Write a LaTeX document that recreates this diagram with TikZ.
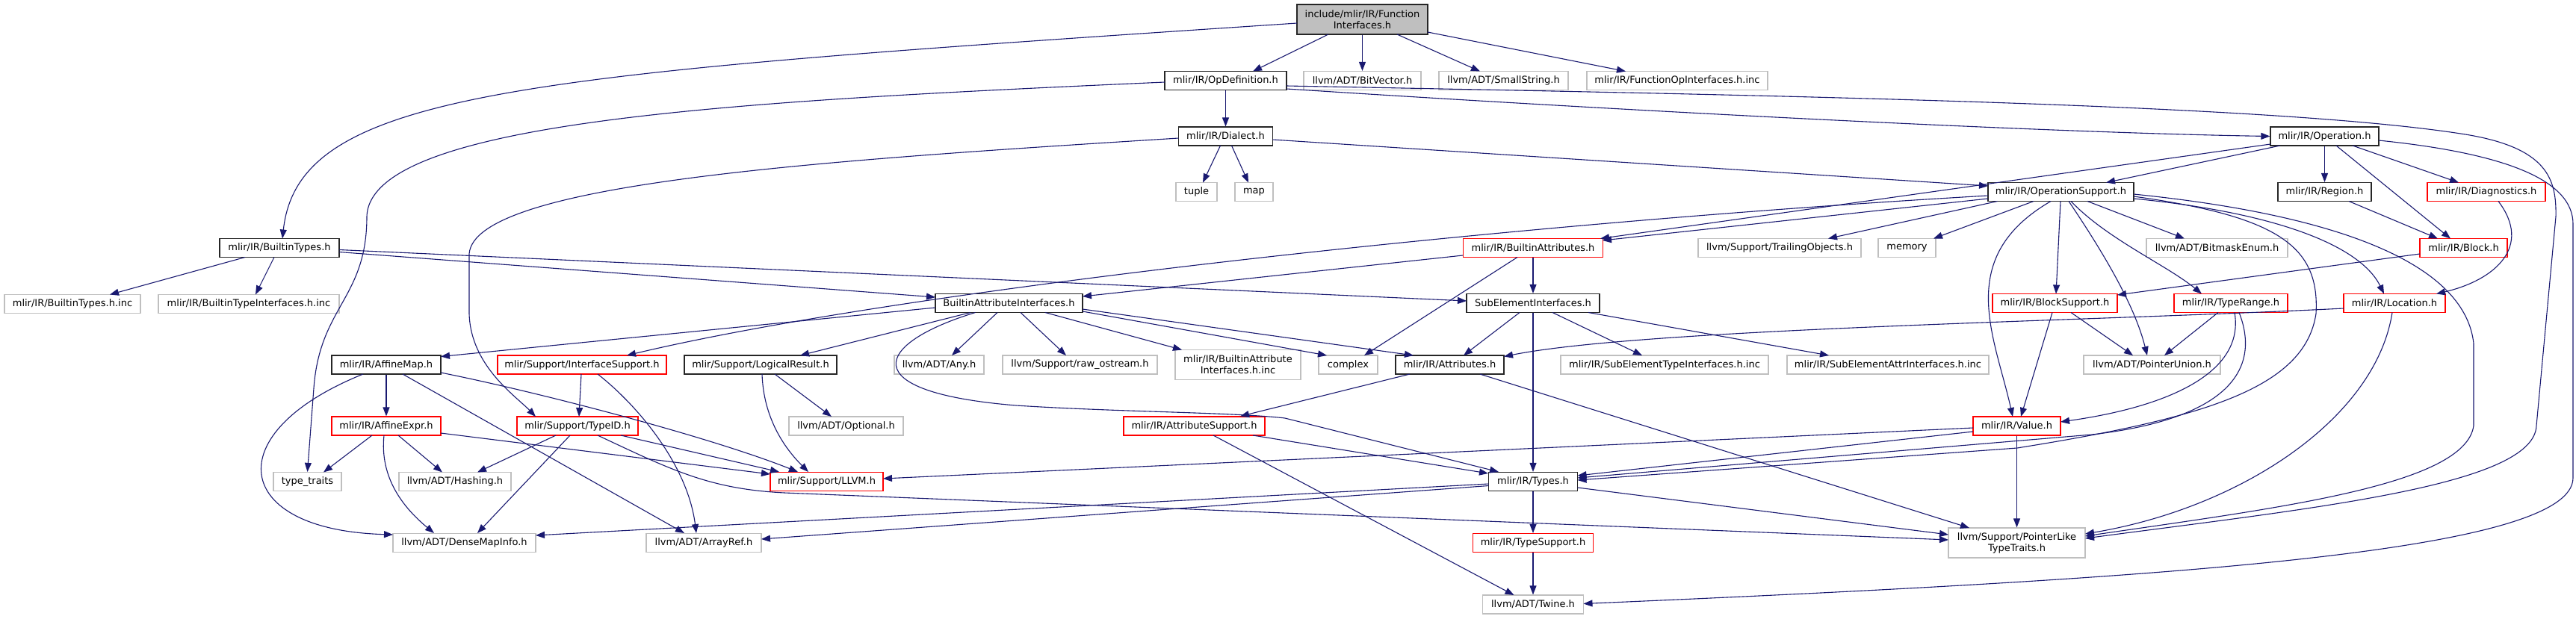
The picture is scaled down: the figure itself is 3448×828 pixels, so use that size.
\documentclass[tikz,border=0pt]{standalone}
\usepackage{fontspec}
\setmainfont{DejaVu Sans}
\usetikzlibrary{arrows.meta}
\definecolor{edgec}{HTML}{191970}
\definecolor{redb}{HTML}{FF0000}
\definecolor{grayb}{HTML}{BFBFBF}
\tikzset{
 nb/.style={draw, rectangle, inner sep=0pt, minimum height=25pt, font=\fontsize{13}{15}\selectfont, align=center, fill=white, line width=1.2pt},
 blk/.style={nb, draw=black!85},
 redn/.style={nb, draw=redb},
 grn/.style={nb, draw=grayb},
 ttl/.style={nb, draw=black!85, fill=grayb, minimum height=40pt},
 two/.style={minimum height=40pt},
 e/.style={draw=edgec, line width=1.1pt, -{Triangle[length=12pt,width=9pt]}},
}
\begin{document}
\begin{tikzpicture}[x=1pt,y=-1pt]
\useasboundingbox (0,0) rectangle (3448,828);
% nodes
\node[ttl, minimum width=175pt] (T) at (1823.5,26) {include/mlir/IR/Function\\Interfaces.h};
\node[blk, minimum width=163pt] (OD) at (1640.5,108) {mlir/IR/OpDefinition.h};
\node[grn, minimum width=157pt] (BV) at (1823.5,108) {llvm/ADT/BitVector.h};
\node[grn, minimum width=173pt] (SS) at (2012.5,108) {llvm/ADT/SmallString.h};
\node[grn, minimum width=242pt] (FOI) at (2245,108) {mlir/IR/FunctionOpInterfaces.h.inc};
\node[blk, minimum width=126pt] (DI) at (1640.5,182.5) {mlir/IR/Dialect.h};
\node[blk, minimum width=145pt] (OP) at (3111.5,182.5) {mlir/IR/Operation.h};
\node[grn, minimum width=55pt] (TU) at (1601.5,257) {tuple};
\node[grn, minimum width=51pt] (MP) at (1678.5,257) {map};
\node[blk, minimum width=195pt] (OS) at (2758.5,257) {mlir/IR/OperationSupport.h};
\node[blk, minimum width=125pt] (RG) at (3111.5,257) {mlir/IR/Region.h};
\node[redn, minimum width=158pt] (DG) at (3328,257) {mlir/IR/Diagnostics.h};
\node[blk, minimum width=160pt] (BT) at (374,332) {mlir/IR/BuiltinTypes.h};
\node[redn, minimum width=187pt] (BA) at (2052,332) {mlir/IR/BuiltinAttributes.h};
\node[grn, minimum width=218pt] (TO) at (2382,332) {llvm/Support/TrailingObjects.h};
\node[grn, minimum width=77pt] (ME) at (2552.5,332) {memory};
\node[grn, minimum width=189pt] (BE) at (2967.5,332) {llvm/ADT/BitmaskEnum.h};
\node[redn, minimum width=117pt] (BL) at (3297.5,332) {mlir/IR/Block.h};
\node[grn, minimum width=182pt] (BTI) at (97,407) {mlir/IR/BuiltinTypes.h.inc};
\node[grn, minimum width=242pt] (BTII) at (333,407) {mlir/IR/BuiltinTypeInterfaces.h.inc};
\node[blk, minimum width=197pt] (BAI) at (1350.5,406) {BuiltinAttributeInterfaces.h};
\node[blk, minimum width=178pt] (SEI) at (2052,406) {SubElementInterfaces.h};
\node[redn, minimum width=167pt] (BS) at (2750.5,406) {mlir/IR/BlockSupport.h};
\node[redn, minimum width=152pt] (TR) at (2986,406) {mlir/IR/TypeRange.h};
\node[redn, minimum width=136pt] (LO) at (3205,406) {mlir/IR/Location.h};
\node[blk, minimum width=146pt] (AM) at (517,488.5) {mlir/IR/AffineMap.h};
\node[redn, minimum width=226pt] (IS) at (779,488.5) {mlir/Support/InterfaceSupport.h};
\node[blk, minimum width=204pt] (LR) at (1018,488.5) {mlir/Support/LogicalResult.h};
\node[grn, minimum width=120pt] (AN) at (1257,488.5) {llvm/ADT/Any.h};
\node[grn, minimum width=207pt] (RO) at (1445.5,488.5) {llvm/Support/raw\_ostream.h};
\node[grn, two, minimum width=168pt] (BAIi) at (1657,488.5) {mlir/IR/BuiltinAttribute\\Interfaces.h.inc};
\node[grn, minimum width=79pt] (CX) at (1804.5,488.5) {complex};
\node[blk, minimum width=145pt] (AT) at (1940.5,488.5) {mlir/IR/Attributes.h};
\node[grn, minimum width=278pt] (SETI) at (2228,488.5) {mlir/IR/SubElementTypeInterfaces.h.inc};
\node[grn, minimum width=270pt] (SEAI) at (2527,488.5) {mlir/IR/SubElementAttrInterfaces.h.inc};
\node[grn, minimum width=183pt] (PU) at (2880.5,488.5) {llvm/ADT/PointerUnion.h};
\node[redn, minimum width=146pt] (AE) at (517,570.5) {mlir/IR/AffineExpr.h};
\node[redn, minimum width=162pt] (TID) at (773,570.5) {mlir/Support/TypeID.h};
\node[grn, minimum width=153pt] (OPT) at (1132.5,570.5) {llvm/ADT/Optional.h};
\node[redn, minimum width=189pt] (AS) at (1598.5,570.5) {mlir/IR/AttributeSupport.h};
\node[redn, minimum width=117pt] (VA) at (2699.5,570.5) {mlir/IR/Value.h};
\node[grn, minimum width=91pt] (TT) at (411.5,645) {type\_traits};
\node[grn, minimum width=150pt] (HA) at (609,645) {llvm/ADT/Hashing.h};
\node[redn, minimum width=151pt] (LL) at (1106.5,645) {mlir/Support/LLVM.h};
\node[blk, minimum width=119pt] (TY) at (2052,645) {mlir/IR/Types.h};
\node[grn, minimum width=191pt] (DM) at (621.5,727) {llvm/ADT/DenseMapInfo.h};
\node[grn, minimum width=154pt] (AR) at (942,727) {llvm/ADT/ArrayRef.h};
\node[redn, minimum width=161pt] (TS) at (2052,727) {mlir/IR/TypeSupport.h};
\node[grn, two, minimum width=183pt] (PL) at (2699.5,727) {llvm/Support/PointerLike\\TypeTraits.h};
\node[grn, minimum width=135pt] (TW) at (2052,809.5) {llvm/ADT/Twine.h};
% title
\draw[e] ([shift={(-87.5,5)}]T.center) .. controls (700,100) and (400,120) .. ([shift={(4,-12.5)}]BT.center);
\draw[e] ([shift={(-45.5,20)}]T.center) -- ([shift={(36.5,-12.5)}]OD.center);
\draw[e] (T.south) -- (BV.north);
\draw[e] ([shift={(46.5,20)}]T.center) -- ([shift={(-31.5,-12.5)}]SS.center);
\draw[e] ([shift={(87.5,17)}]T.center) -- ([shift={(-69,-12.5)}]FOI.center);
% OpDefinition
\draw[e] (OD.south) -- (DI.north);
\draw[e] ([shift={(81.5,11)}]OD.center) .. controls (2200,150) and (2750,178) .. (OP.west);
\draw[e] ([shift={(-81.5,2)}]OD.center) .. controls (1000,135) and (495,160) .. (491,290) .. controls (491,400) and (428,410) .. (420,520) -- (TT.north);
\draw[e] ([shift={(81.5,7)}]OD.center) .. controls (2400,128) and (3050,140) .. (3300,180) .. controls (3410,198) and (3422,240) .. (3421,290) -- (3395,570) .. controls (3392,650) and (3100,680) .. ([shift={(91.5,-6)}]PL.center);
% Dialect
\draw[e] ([shift={(-7,12.5)}]DI.center) -- ([shift={(8.5,-12.5)}]TU.center);
\draw[e] ([shift={(8,12.5)}]DI.center) -- ([shift={(-7.5,-12.5)}]MP.center);
\draw[e] ([shift={(63,4.5)}]DI.center) -- ([shift={(-97.5,-8)}]OS.center);
\draw[e] ([shift={(-63,2.5)}]DI.center) .. controls (1100,215) and (635,245) .. (628,340) -- (628,420) .. controls (630,490) and (690,530) .. ([shift={(-56,-12.5)}]TID.center);
% Operation
\draw[e] ([shift={(-59.5,12.5)}]OP.center) -- ([shift={(60.5,-12.5)}]OS.center);
\draw[e] (OP.south) -- (RG.north);
\draw[e] ([shift={(15.5,12.5)}]OP.center) -- ([shift={(-17.5,-12.5)}]BL.center);
\draw[e] ([shift={(37.5,12.5)}]OP.center) -- ([shift={(-37,-12.5)}]DG.center);
\draw[e] ([shift={(-72.5,10.5)}]OP.center) -- ([shift={(90,-12.5)}]BA.center);
\draw[e] ([shift={(72.5,5.5)}]OP.center) .. controls (3350,205) and (3444,240) .. (3444,300) -- (3444,640) .. controls (3444,740) and (2900,775) .. ([shift={(67.5,-1)}]TW.center);
% OperationSupport
\draw[e] ([shift={(-97.5,9)}]OS.center) -- ([shift={(93,-10)}]BA.center);
\draw[e] ([shift={(-97.5,5)}]OS.center) .. controls (2000,300) and (1200,390) .. ([shift={(60,-12.5)}]IS.center);
\draw[e] ([shift={(-85,12.5)}]OS.center) -- ([shift={(65,-12.5)}]TO.center);
\draw[e] ([shift={(-36.5,12.5)}]OS.center) -- ([shift={(35.5,-12.5)}]ME.center);
\draw[e] ([shift={(35.5,12.5)}]OS.center) -- ([shift={(-43.5,-12.5)}]BE.center);
\draw[e] ([shift={(-0.5,12.5)}]OS.center) -- ([shift={(1.5,-12.5)}]BS.center);
\draw[e] ([shift={(13.5,12.5)}]OS.center) .. controls (2820,320) and (2900,355) .. ([shift={(-39,-12.5)}]TR.center);
\draw[e] ([shift={(97.5,9)}]OS.center) .. controls (3050,285) and (3160,330) .. ([shift={(-14,-12.5)}]LO.center);
\draw[e] ([shift={(10.5,12.5)}]OS.center) .. controls (2830,360) and (2860,420) .. ([shift={(-6.5,-12.5)}]PU.center);
\draw[e] ([shift={(-13.5,12.5)}]OS.center) .. controls (2615,345) and (2670,450) .. ([shift={(-5.5,-12.5)}]VA.center);
\draw[e] ([shift={(97.5,6)}]OS.center) .. controls (3050,290) and (3105,330) .. (3100,420) .. controls (3085,520) and (2950,560) .. (2700,600) -- ([shift={(59.5,-2)}]TY.center);
\draw[e] ([shift={(97.5,3)}]OS.center) .. controls (3150,290) and (3300,360) .. (3311,460) -- (3311,570) .. controls (3300,650) and (3050,680) .. ([shift={(91.5,-9)}]PL.center);
% Block, Region, Diagnostics, Location
\draw[e] ([shift={(-58.5,8)}]BL.center) -- ([shift={(83.5,-11)}]BS.center);
\draw[e] ([shift={(32.5,12.5)}]RG.center) -- ([shift={(-34.5,-12.5)}]BL.center);
\draw[e] ([shift={(16,12.5)}]DG.center) .. controls (3390,330) and (3340,375) .. ([shift={(56,-12.5)}]LO.center);
\draw[e] ([shift={(-68,7)}]LO.center) .. controls (2800,430) and (2200,440) .. ([shift={(72.5,-11)}]AT.center);
\draw[e] ([shift={(-3,12.5)}]LO.center) .. controls (3180,560) and (3000,680) .. ([shift={(91.5,-12)}]PL.center);
% BlockSupport, TypeRange
\draw[e] ([shift={(-3.5,12.5)}]BS.center) -- ([shift={(5.5,-12.5)}]VA.center);
\draw[e] ([shift={(21.5,12.5)}]BS.center) -- ([shift={(-25.5,-12.5)}]PU.center);
\draw[e] ([shift={(-17,12.5)}]TR.center) -- ([shift={(16.5,-12.5)}]PU.center);
\draw[e] ([shift={(5,12.5)}]TR.center) .. controls (3005,500) and (2900,545) .. ([shift={(58.5,-5.5)}]VA.center);
\draw[e] ([shift={(11,12.5)}]TR.center) .. controls (3025,490) and (2990,560) .. (2800,582) -- ([shift={(59.5,-5)}]TY.center);
% Value
\draw[e] ([shift={(-58.5,2.5)}]VA.center) -- ([shift={(75.5,-4)}]LL.center);
\draw[e] ([shift={(-58.5,7.5)}]VA.center) -- ([shift={(59.5,-8)}]TY.center);
\draw[e] (VA.south) -- (PL.north);
% BuiltinTypes
\draw[e] ([shift={(-46,12.5)}]BT.center) -- ([shift={(50,-12.5)}]BTI.center);
\draw[e] ([shift={(-7,12.5)}]BT.center) -- ([shift={(9,-12.5)}]BTII.center);
\draw[e] ([shift={(80,5.5)}]BT.center) -- ([shift={(-98.5,-8)}]BAI.center);
\draw[e] ([shift={(80,2.5)}]BT.center) -- ([shift={(-89,-3)}]SEI.center);
% BuiltinAttributes
\draw[e] ([shift={(-94,10)}]BA.center) -- ([shift={(98.5,-9)}]BAI.center);
\draw[e] (BA.south) -- (SEI.north);
\draw[e] ([shift={(-21,12.5)}]BA.center) -- ([shift={(21.5,-12.5)}]CX.center);
% SubElementInterfaces
\draw[e] ([shift={(-18,12.5)}]SEI.center) -- ([shift={(18.5,-12.5)}]AT.center);
\draw[e] (SEI.south) -- (TY.north);
\draw[e] ([shift={(26,12.5)}]SEI.center) -- ([shift={(-30,-12.5)}]SETI.center);
\draw[e] ([shift={(74,12.5)}]SEI.center) -- ([shift={(-79,-12.5)}]SEAI.center);
% BuiltinAttributeInterfaces
\draw[e] ([shift={(-98.5,6)}]BAI.center) -- ([shift={(73,-11)}]AM.center);
\draw[e] ([shift={(-51.5,12.5)}]BAI.center) -- ([shift={(53,-12.5)}]LR.center);
\draw[e] ([shift={(-15.5,12.5)}]BAI.center) -- ([shift={(17,-12.5)}]AN.center);
\draw[e] ([shift={(15.5,12.5)}]BAI.center) -- ([shift={(-18.5,-12.5)}]RO.center);
\draw[e] ([shift={(48.5,12.5)}]BAI.center) -- ([shift={(-75,-20)}]BAIi.center);
\draw[e] ([shift={(98.5,11)}]BAI.center) -- ([shift={(-28.5,-12.5)}]CX.center);
\draw[e] ([shift={(98.5,8)}]BAI.center) -- ([shift={(-48.5,-12.5)}]AT.center);
\draw[e] ([shift={(-45,12.5)}]BAI.center) .. controls (1170,460) and (1140,525) .. (1360,543) .. controls (1500,552) and (1650,552) .. (1720,560) -- ([shift={(-46,-13)}]TY.center);
% AffineMap
\draw[e] (AM.south) -- (AE.north);
\draw[e] ([shift={(-31,12.5)}]AM.center) .. controls (290,580) and (310,710) .. ([shift={(-95.5,-11)}]DM.center);
\draw[e] ([shift={(22,12.5)}]AM.center) -- ([shift={(-26,-13)}]AR.center);
\draw[e] ([shift={(73,10.5)}]AM.center) .. controls (720,525) and (950,585) .. ([shift={(-38.5,-13)}]LL.center);
% AffineExpr
\draw[e] ([shift={(-19,12.5)}]AE.center) -- ([shift={(21.5,-12.5)}]TT.center);
\draw[e] ([shift={(16,12.5)}]AE.center) -- ([shift={(-17,-12.5)}]HA.center);
\draw[e] ([shift={(-3,12.5)}]AE.center) .. controls (508,640) and (540,680) .. ([shift={(-40.5,-13)}]DM.center);
\draw[e] ([shift={(73,9.5)}]AE.center) -- ([shift={(-75.5,-10)}]LL.center);
% InterfaceSupport
\draw[e] ([shift={(-1,12.5)}]IS.center) -- ([shift={(2,-12.5)}]TID.center);
\draw[e] ([shift={(21,12.5)}]IS.center) .. controls (850,540) and (920,620) .. ([shift={(-10,-13)}]AR.center);
% TypeID
\draw[e] ([shift={(-29,12.5)}]TID.center) -- ([shift={(30,-12.5)}]HA.center);
\draw[e] ([shift={(-10,12.5)}]TID.center) -- ([shift={(17.5,-13)}]DM.center);
\draw[e] ([shift={(58,12.5)}]TID.center) -- ([shift={(-63.5,-13)}]LL.center);
\draw[e] ([shift={(27,12.5)}]TID.center) .. controls (900,630) and (950,655) .. (1050,660) -- ([shift={(-91.5,-4)}]PL.center);
% LogicalResult
\draw[e] ([shift={(19,12.5)}]LR.center) -- ([shift={(-19.5,-12.5)}]OPT.center);
\draw[e] ([shift={(2,12.5)}]LR.center) .. controls (1022,560) and (1050,600) .. ([shift={(-24.5,-13)}]LL.center);
% Attributes
\draw[e] ([shift={(-53.5,12.5)}]AT.center) -- ([shift={(61.5,-13)}]AS.center);
\draw[e] ([shift={(40.5,12.5)}]AT.center) -- ([shift={(-63.5,-20)}]PL.center);
% AttributeSupport
\draw[e] ([shift={(78.5,12.5)}]AS.center) -- ([shift={(-60,-11)}]TY.center);
\draw[e] ([shift={(25.5,12.5)}]AS.center) -- ([shift={(-25.5,-12.5)}]TW.center);
% Types
\draw[e] (TY.south) -- (TS.north);
\draw[e] ([shift={(-59.5,3)}]TY.center) -- ([shift={(95.5,-10)}]DM.center);
\draw[e] ([shift={(-59.5,5.5)}]TY.center) -- ([shift={(77,-5)}]AR.center);
\draw[e] ([shift={(59.5,8)}]TY.center) -- ([shift={(-91.5,-11)}]PL.center);
\draw[e] (TS.south) -- (TW.north);
\end{tikzpicture}
\end{document}
